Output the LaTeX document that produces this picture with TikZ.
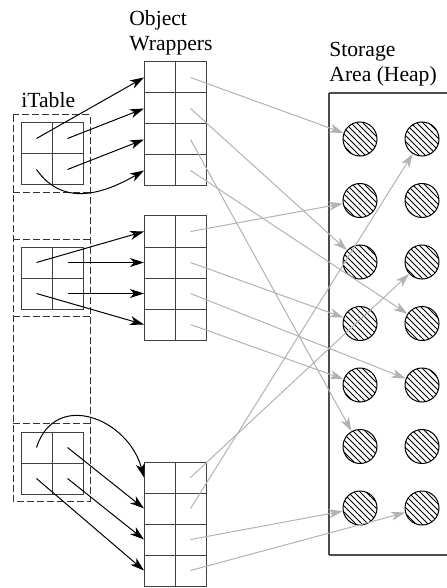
\documentclass[tikz,border=0pt]{standalone}
\usepackage{fontspec}
\setmainfont{Liberation Serif}
\usetikzlibrary{arrows.meta, patterns}
\tikzset{
	x=0.5pt, y=-0.5pt, % one unit is one pixel of the sketch, y runs down
	>={Stealth[length=7pt, width=4.5pt, inset=2pt]}, % long filled heads
	cell/.style={draw=black!75, line width=0.5pt, minimum size=15.5pt, inner sep=0pt, outer sep=0pt},
	frame/.style={draw=black!80, line width=0.5pt, dash pattern=on 3.5pt off 1.5pt},
	link/.style={->, line width=0.5pt, black}, % iTable -> wrapper
	ref/.style={->, line width=0.5pt, black!30}, % wrapper -> heap object
	obj/.style={circle, draw, line width=0.5pt, pattern=north west lines, minimum size=17pt, inner sep=0pt},
	heading/.style={font=\fontsize{10.8}{12.5}\selectfont, inner sep=0pt, align=left},
}
\begin{document}
\begin{tikzpicture}
	\useasboundingbox (0,0) rectangle (446,588);

	% iTable
	\node[heading, anchor=base west] (itab) at (21,108) {iTable};
	\draw[frame] (13,115) rectangle (90,501);
	\foreach \y in {193,239,316,423}
		\draw[frame] (13,\y) -- (90,\y);
	\foreach \g/\top in {1/123, 2/247, 3/432}
		\foreach \r in {1,2}
			\foreach \c in {1,2}
				\node[cell] (t\g\r\c) at ({5.5+31*\c}, {\top-15.5+31*\r}) {};

	% object wrappers
	\node[heading, anchor=north west] (wtitle) at (129,10) {Object\\Wrappers};
	\foreach \b/\top in {1/62, 2/216, 3/462}
		\foreach \r in {1,...,4} {
			\node[cell] (wl\b\r) at (159.5, {\top-15.5+31*\r}) {};
			\node[cell] (wr\b\r) at (190.5, {\top-15.5+31*\r}) {};
		}

	% storage area, open to the right
	\node[heading, anchor=north west] (htitle) at (329,42) {Storage\\Area (Heap)};
	\draw[black!70, line width=0.7pt] (329,93) -- (460,93);
	\draw[black!70, line width=0.7pt] (329,93) -- (329,555);
	\draw[black!70, line width=0.7pt] (329,555) -- (460,555);
	\foreach \c/\x in {1/360, 2/422}
		\foreach \r in {1,...,7}
			\node[obj] (h\c\r) at (\x, {139+61.5*(\r-1)}) {};

	% iTable entries point at wrappers
	\draw[link] (t111.center) -- (wl11.west);
	\draw[link] (t112.center) -- (wl12.west);
	\draw[link] (t122.center) -- (wl13.west);
	\draw[link] (t121.center) to[out=-55, in=210, looseness=1.1] (wl14.west);
	\draw[link] (t211.center) -- (wl21.west);
	\draw[link] (t212.center) -- (wl22.west);
	\draw[link] (t222.center) -- (wl23.west);
	\draw[link] (t221.center) -- (wl24.west);
	\draw[link] (t311.center) to[out=72, in=105, looseness=1.4] (wl31.west);
	\draw[link] (t312.center) -- (wl32.west);
	\draw[link] (t322.center) -- (wl33.west);
	\draw[link] (t321.center) -- (wl34.west);

	% wrappers point into the heap
	\draw[ref] (wr11.center) -- (h11);
	\draw[ref] (wr12.center) -- (h13);
	\draw[ref] (wr13.center) -- (h16);
	\draw[ref] (wr14.center) -- (h24);
	\draw[ref] (wr21.center) -- (h12);
	\draw[ref] (wr22.center) -- (h14);
	\draw[ref] (wr23.center) -- (h25);
	\draw[ref] (wr24.center) -- (h15);
	\draw[ref] (wr31.center) -- (h23);
	\draw[ref] (wr32.center) -- (h21);
	\draw[ref] (wr33.center) -- (h17);
	\draw[ref] (wr34.center) -- (h27);
\end{tikzpicture}
\end{document}
